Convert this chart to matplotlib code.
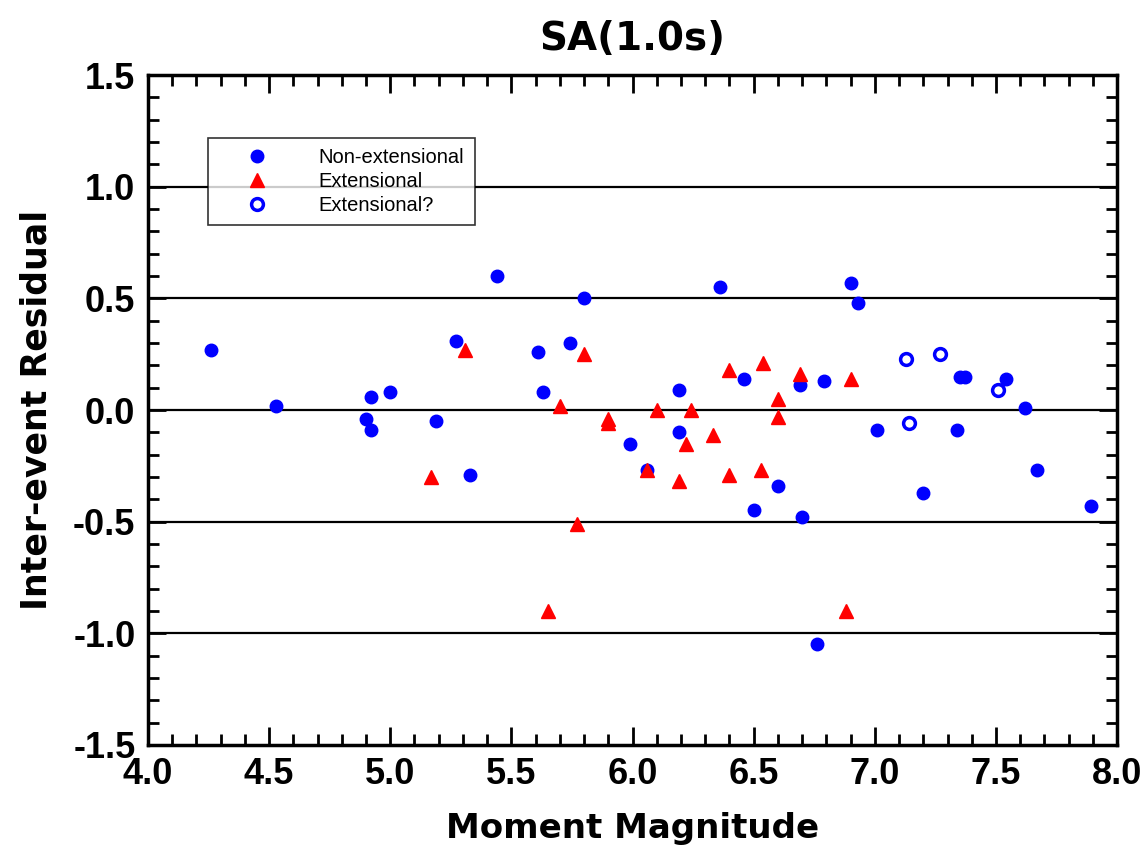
import matplotlib.pyplot as plt
from matplotlib.ticker import MultipleLocator, FormatStrFormatter

# non-extensional events (filled blue circles)
mag_non = [4.26, 4.53, 4.90, 4.92, 4.92, 5.00, 5.19, 5.27, 5.33, 5.44, 5.61, 5.63, 5.74, 5.80,
           5.99, 6.06, 6.19, 6.19, 6.36, 6.46, 6.50, 6.60, 6.69, 6.70, 6.76, 6.79, 6.90, 6.93,
           7.01, 7.20, 7.34, 7.35, 7.37, 7.54, 7.62, 7.67, 7.89]
res_non = [0.27, 0.02, -0.04, 0.06, -0.09, 0.08, -0.05, 0.31, -0.29, 0.60, 0.26, 0.08, 0.30, 0.50,
           -0.15, -0.27, 0.09, -0.10, 0.55, 0.14, -0.45, -0.34, 0.11, -0.48, -1.05, 0.13, 0.57, 0.48,
           -0.09, -0.37, -0.09, 0.15, 0.15, 0.14, 0.01, -0.27, -0.43]

# extensional events (red triangles)
mag_ext = [5.17, 5.31, 5.65, 5.70, 5.77, 5.80, 5.90, 5.90, 6.06, 6.10, 6.19, 6.22, 6.24, 6.33,
           6.40, 6.40, 6.53, 6.54, 6.60, 6.60, 6.69, 6.88, 6.90]
res_ext = [-0.30, 0.27, -0.90, 0.02, -0.51, 0.25, -0.04, -0.06, -0.27, 0.00, -0.32, -0.15, 0.00, -0.11,
           0.18, -0.29, -0.27, 0.21, 0.05, -0.03, 0.16, -0.90, 0.14]

# uncertain (open blue circles)
mag_q = [7.13, 7.14, 7.27, 7.51]
res_q = [0.23, -0.06, 0.25, 0.09]

ref_lines = [-1.0, -0.5, 0.0, 0.5, 1.0]

plt.rcParams['font.family'] = ['Liberation Sans', 'DejaVu Sans']

fig = plt.figure(figsize=(11.47, 8.48), dpi=100)
ax = fig.add_axes([0.129, 0.1215, 0.845, 0.79])

for yv in ref_lines:
    ax.axhline(yv, color='black', lw=1.6, zorder=1)

ax.plot(mag_non, res_non, 'o', color='#0000ff', ms=9, mec='#0000ff', zorder=3, label='Non-extensional')
ax.plot(mag_ext, res_ext, '^', color='#ff0000', ms=10, mec='#ff0000', zorder=3, label='Extensional')
ax.plot(mag_q, res_q, 'o', color='#0000ff', ms=8.5, mfc='white', mec='#0000ff', mew=2.5, zorder=3,
        label='Extensional?')

ax.set_xlim(4.0, 8.0)
ax.set_ylim(-1.5, 1.5)
ax.xaxis.set_major_locator(MultipleLocator(0.5))
ax.xaxis.set_minor_locator(MultipleLocator(0.1))
ax.yaxis.set_major_locator(MultipleLocator(0.5))
ax.yaxis.set_minor_locator(MultipleLocator(0.1))
ax.xaxis.set_major_formatter(FormatStrFormatter('%.1f'))
ax.yaxis.set_major_formatter(FormatStrFormatter('%.1f'))

ax.tick_params(which='both', direction='in', top=True, right=True, width=2)
ax.tick_params(which='major', length=13, pad=9)
ax.tick_params(which='minor', length=8)
for lab in ax.get_xticklabels() + ax.get_yticklabels():
    lab.set_fontsize(26)
    lab.set_fontweight('bold')
for sp in ax.spines.values():
    sp.set_linewidth(2.5)

# title and axis labels are wider in the original, DejaVu gets closer
ax.set_xlabel('Moment Magnitude', fontsize=24.5, fontweight='bold', labelpad=14,
              family=['DejaVu Sans'])
ax.set_ylabel('Inter-event Residual', fontsize=25, fontweight='bold', labelpad=14,
              family=['DejaVu Sans'])
ax.set_title('SA(1.0s)', fontsize=28, fontweight='bold', pad=18, family=['DejaVu Sans'])

leg = ax.legend(loc='upper left', bbox_to_anchor=(0.062, 0.906), fontsize=14.5, frameon=True,
                fancybox=False, edgecolor='black', handletextpad=1.1, borderpad=0.5,
                labelspacing=0.25, handlelength=3.9, borderaxespad=0, numpoints=1)
leg.get_frame().set_linewidth(1.2)
leg.set_zorder(5)

fig.savefig('out.png', dpi=100, facecolor='white')
